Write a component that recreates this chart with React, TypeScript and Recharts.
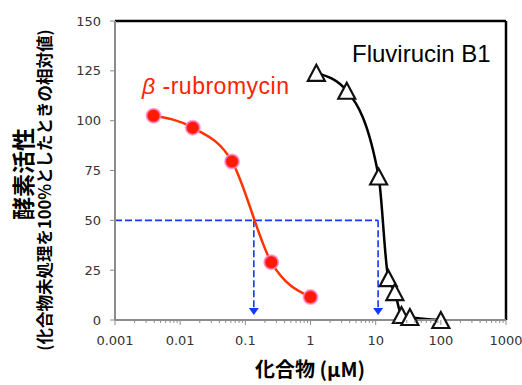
import React from 'react';
import { ComposedChart, Line, XAxis, YAxis, ReferenceLine, ReferenceDot } from 'recharts';

// β-rubromycin (4-fold dilutions) and Fluvirucin B1, activity in % of untreated
const rubroConc = [0.0039, 0.0156, 0.0625, 0.25, 1];
const rubroActivity = [102.5, 96.5, 79.5, 29, 11.5];
const fluviConc = [1.23, 3.6, 11.1, 15.6, 19.7, 24.9, 33.5, 100];
const fluviActivity = [124, 115, 72, 21, 14, 2.5, 1.5, 0];

const xMajorTicks = [0.001, 0.01, 0.1, 1, 10, 100, 1000];
const xTickLabels = ['0.001', '0.01', '0.1', '1', '10', '100', '1000'];
const yTicks = [0, 25, 50, 75, 100, 125, 150];

// IC50 read-off guides
const ic50Conc = [0.135, 10.9];
const halfActivity = 50;

const rubroData = rubroConc.map((x, i) => ({ x, y: rubroActivity[i] }));
const fluviData = fluviConc.map((x, i) => ({ x, y: fluviActivity[i] }));
const xMinorTicks = xMajorTicks.slice(0, -1).flatMap((d) => [2, 3, 4, 5, 6, 7, 8, 9].map((k) => d * k));
const xAllTicks = [...xMajorTicks, ...xMinorTicks].sort((a, b) => a - b);

const TICK_FONT = '"DejaVu Sans", sans-serif';
const JP_FONT = '"Noto Sans CJK JP", sans-serif';
const AXIS_GRAY = '#8c8c8c';
const BLUE = '#1438ff';

function XTick({ x, y, payload }: any) {
  const idx = xMajorTicks.findIndex((t) => Math.abs(t - payload.value) / t < 1e-6);
  const major = idx >= 0;
  return (
    <g>
      <line x1={x} x2={x} y1={y} y2={y + (major ? 5 : 3)} stroke={AXIS_GRAY} strokeWidth={1} />
      {major && (
        <text x={x} y={y + 25} textAnchor="middle" fontSize={13} fill="#333" fontFamily={TICK_FONT}>
          {xTickLabels[idx]}
        </text>
      )}
    </g>
  );
}

function RedDot({ cx, cy, index }: any) {
  return <circle key={`r${index}`} cx={cx} cy={cy} r={7} fill="#ff1a00" stroke="#ff8ad8" strokeOpacity={0.75} strokeWidth={2} />;
}

function Triangle({ cx, cy, index }: any) {
  return (
    <polygon
      key={`t${index}`}
      points={`${cx},${cy - 8} ${cx - 8.5},${cy + 8} ${cx + 8.5},${cy + 8}`}
      fill="#fff"
      stroke="#111"
      strokeWidth={2.2}
      strokeLinejoin="miter"
    />
  );
}

function ArrowHead({ cx, cy }: any) {
  return <polygon points={`${cx - 5},${cy - 12} ${cx + 5},${cy - 12} ${cx},${cy - 5}`} fill={BLUE} />;
}

export default function App() {
  return (
    <div style={{ position: 'absolute', left: 0, top: 0, width: 522, height: 385, background: '#fff' }}>
      <ComposedChart width={522} height={385} margin={{ top: 21, right: 16, bottom: 35, left: 55 }}>
        <XAxis
          dataKey="x"
          type="number"
          scale="log"
          domain={[0.001, 1000]}
          allowDataOverflow
          ticks={xAllTicks}
          interval={0}
          tickSize={0}
          tickMargin={0}
          tickLine={false}
          tick={<XTick />}
          axisLine={{ stroke: AXIS_GRAY, strokeWidth: 2 }}
          height={30}
        />
        <YAxis
          type="number"
          domain={[0, 150]}
          ticks={yTicks}
          interval={0}
          width={60}
          tickSize={5}
          tickMargin={9}
          tickLine={{ stroke: AXIS_GRAY }}
          axisLine={{ stroke: AXIS_GRAY, strokeWidth: 2 }}
          tick={{ fill: '#333', fontSize: 13, fontFamily: TICK_FONT }}
        />
        <ReferenceLine y={150} stroke="#000" strokeWidth={2.5} />
        <ReferenceLine x={1000} stroke="#000" strokeWidth={2.5} />
        <ReferenceLine
          segment={[{ x: 0.001, y: halfActivity }, { x: ic50Conc[1], y: halfActivity }]}
          stroke={BLUE}
          strokeWidth={1.6}
          strokeDasharray="7 3"
        />
        {ic50Conc.map((c) => (
          <ReferenceLine
            key={`v${c}`}
            segment={[{ x: c, y: halfActivity }, { x: c, y: 6 }]}
            stroke={BLUE}
            strokeWidth={1.6}
            strokeDasharray="7 3"
          />
        ))}
        {ic50Conc.map((c) => (
          <ReferenceDot key={`a${c}`} x={c} y={0} r={5} shape={<ArrowHead />} />
        ))}
        <Line
          data={rubroData}
          dataKey="y"
          type="monotone"
          stroke="#ff3300"
          strokeWidth={2.5}
          dot={(p: any) => <RedDot {...p} />}
          isAnimationActive={false}
        />
        <Line
          data={fluviData}
          dataKey="y"
          type="monotone"
          stroke="#000"
          strokeWidth={2.5}
          dot={(p: any) => <Triangle {...p} />}
          isAnimationActive={false}
        />
      </ComposedChart>
      <svg width={522} height={385} style={{ position: 'absolute', left: 0, top: 0, pointerEvents: 'none' }}>
        <text
          transform="translate(22,174) rotate(-90)"
          textAnchor="middle"
          dominantBaseline="central"
          fontSize={23}
          fontWeight="bold"
          fontFamily={JP_FONT}
          fill="#000"
        >
          酵素活性
        </text>
        <text
          transform="translate(44,190) rotate(-90)"
          textAnchor="middle"
          dominantBaseline="central"
          fontSize={16.5}
          fontWeight="bold"
          fontFamily={JP_FONT}
          fill="#000"
        >
          (化合物未処理を100%としたときの相対値)
        </text>
        <text x={310} y={377} textAnchor="middle" fontSize={20} fontWeight="bold" fontFamily={JP_FONT} fill="#000">
          化合物 (μM)
        </text>
        <text x={142} y={94} fontSize={23} fontFamily='"Liberation Sans", Arial, sans-serif' fill="#ff2200" letterSpacing={0.5}>
          <tspan fontStyle="italic">β</tspan>
          <tspan> -rubromycin</tspan>
        </text>
        <text x={352} y={62} fontSize={24} fontFamily='"Liberation Sans", Arial, sans-serif' fill="#000">
          Fluvirucin B1
        </text>
      </svg>
    </div>
  );
}
